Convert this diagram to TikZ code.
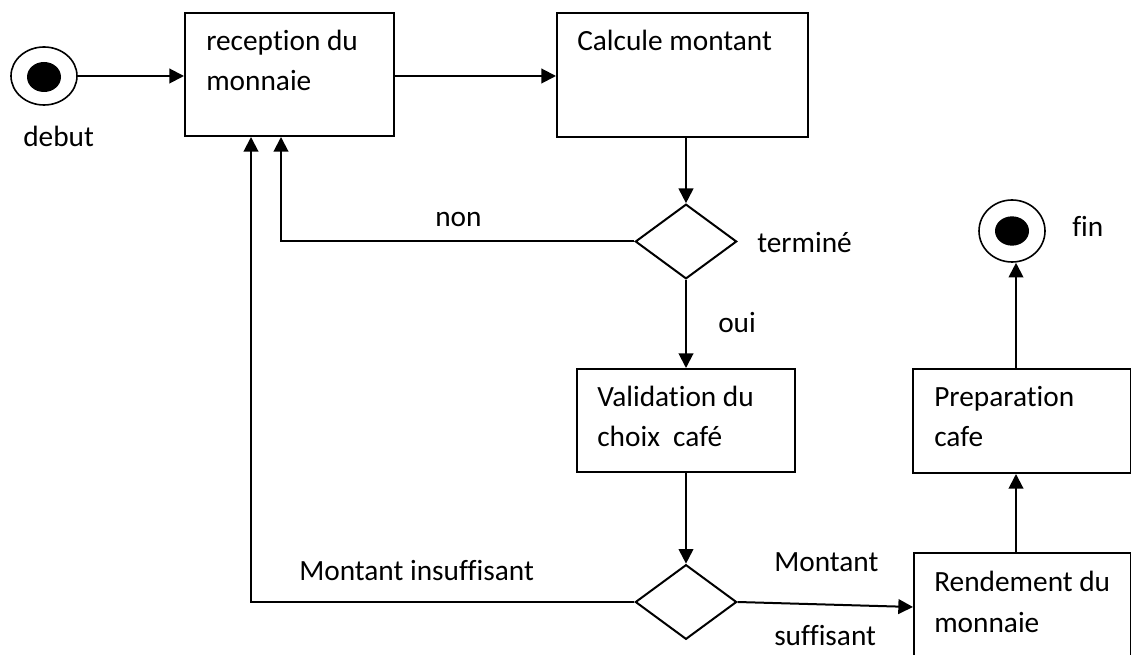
\documentclass[tikz,border=0pt]{standalone}
\usepackage{fontspec}
\setmainfont{Carlito}[Ligatures={NoCommon}]
\usetikzlibrary{arrows.meta,shapes.geometric}
\tikzset{
  stbox/.style={draw, line width=1.5pt, rectangle, inner sep=0, anchor=north west},
  lbl/.style={inner sep=0, anchor=base west, align=left, font=\fontsize{22}{30.5}\selectfont},
  dec/.style={draw, line width=1.5pt, diamond, inner sep=0, minimum width=76pt, minimum height=56pt, aspect=1.35},
  conn/.style={line width=1.5pt, -{Triangle[length=11pt,width=11pt]}},
}
\begin{document}
\begin{tikzpicture}[x=0.75pt,y=-0.75pt]
\useasboundingbox (0,0) rectangle (1131,655);
\clip (0,0) rectangle (1131,655);
\fill[white] (0,0) rectangle (1131,655);
% start
\node[draw, line width=1.2pt, ellipse, minimum width=49.5pt, minimum height=43.5pt, inner sep=0] (start) at (44,76) {};
\node[fill=black, ellipse, minimum width=25.5pt, minimum height=22.5pt, inner sep=0] (startdot) at (44,77) {};
\node[lbl] (tdebut) at (23,147) {debut};
% boxes
\node[stbox, minimum width=156.75pt, minimum height=92.25pt] (b1) at (184,12) {};
\node[lbl] (t1) at (206,91) {reception du\\monnaie};
\node[stbox, minimum width=188.25pt, minimum height=93pt] (b2) at (556,12) {};
\node[lbl] (t2) at (577,51) {Calcule montant};
\node[stbox, minimum width=163.5pt, minimum height=77.25pt] (b3) at (576,368) {};
\node[lbl] (t3) at (597,447) {Validation du\\choix\ \ café};
\node[stbox, minimum width=163.5pt, minimum height=78pt] (b5) at (912,368) {};
\node[lbl] (t5) at (934,447) {Preparation\\cafe};
\node[stbox, minimum width=162.75pt, minimum height=110pt] (b4) at (913,552) {};
\node[lbl] (t4) at (934,632) {Rendement du\\monnaie};
% decisions
\node[dec] (d1) at (686,241.5) {};
\node[dec] (d2) at (686,602) {};
% end
\node[draw, line width=1.2pt, ellipse, minimum width=49.5pt, minimum height=46.5pt, inner sep=0] (fin) at (1012,231) {};
\node[fill=black, ellipse, minimum width=25.5pt, minimum height=22pt, inner sep=0] (findot) at (1012,231) {};
\node[lbl] (tfin) at (1072,237) {fin};
% labels
\node[lbl] (tterm) at (757,253) {terminé};
\node[lbl] (toui) at (718,333) {oui};
\node[lbl] (tnon) at (435,227) {non};
\node[lbl] (tins) at (299,580) {Montant insuffisant};
\node[lbl] (tmont) at (774,571) {Montant};
\node[lbl] (tsuff) at (774,645) {suffisant};
% connectors
\draw[conn] (start.east) -- (b1.west |- start.east);
\draw[conn] (b1.east |- 0,76) -- (b2.west |- 0,76);
\draw[conn] (b2.south -| d1.north) -- (d1.north);
\draw[conn] (d1.west) -| (b1.south -| 281,0);
\draw[conn] (d1.south) -- (b3.north -| d1.south);
\draw[conn] (b3.south -| d2.north) -- (d2.north);
\draw[conn] (d2.west) -| (b1.south -| 251,0);
\draw[conn] (d2.east) -- (b4.west |- 0,607);
\draw[conn] (b4.north -| 1016,0) -- (b5.south -| 1016,0);
\draw[conn] (b5.north -| 1016,0) -- (fin.south -| 1016,0);
\end{tikzpicture}
\end{document}
